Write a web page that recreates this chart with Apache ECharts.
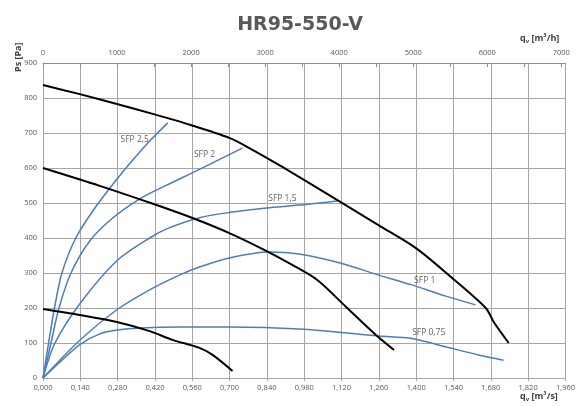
<!DOCTYPE html>
<html>
<head>
<meta charset="utf-8">
<script src="https://cdn.jsdelivr.net/npm/echarts@6/dist/echarts.min.js"></script>
<style>html,body{margin:0;padding:0;background:#fff}#c{width:578px;height:407px}</style>
</head>
<body>
<div id="c"></div>
<script>
// Fan curves (q [m3/s], Ps [Pa])
var fanHigh = [[0,837],[0.138,811],[0.277,783],[0.415,754],[0.554,723],[0.699,686],[0.774,657],[0.898,603],[1.103,509],[1.260,436],[1.399,371],[1.522,294],[1.661,200],[1.691,160],[1.747,100]];
var fanMid = [[0,600],[0.213,549],[0.415,497],[0.561,457],[0.699,414],[0.830,366],[0.935,323],[1.029,280],[1.137,203],[1.249,123],[1.317,80]];
var fanLow = [[0,197],[0.138,180],[0.277,160],[0.400,134],[0.486,109],[0.587,86],[0.636,66],[0.711,20]];
// SFP curves
var sfp25 = [[0,0],[0.021,100],[0.043,200],[0.071,300],[0.123,400],[0.194,485],[0.277,568],[0.340,626],[0.404,680],[0.468,729]];
var sfp2 = [[0,0],[0.030,100],[0.060,200],[0.105,300],[0.176,392],[0.258,455],[0.363,512],[0.464,551],[0.587,596],[0.748,657]];
var sfp15 = [[0,0],[0.045,100],[0.141,215],[0.277,335],[0.400,400],[0.464,426],[0.587,458],[0.711,474],[0.838,486],[0.961,494],[1.103,506]];
var sfp1 = [[0,0],[0.141,110],[0.277,195],[0.400,252],[0.512,294],[0.587,317],[0.699,343],[0.849,360],[0.961,354],[1.111,329],[1.260,294],[1.384,266],[1.511,234],[1.623,209]];
var sfp075 = [[0,0],[0.071,51],[0.141,97],[0.213,126],[0.277,137],[0.363,143],[0.512,146],[0.699,146],[0.961,140],[1.260,120],[1.384,113],[1.511,89],[1.634,66],[1.728,51]];
// Curve labels [q, Ps, text]
var sfpLabels = [[0.344,680,'SFP 2,5'],[0.606,637,'SFP 2'],[0.898,514,'SFP 1,5'],[1.432,277,'SFP 1'],[1.447,129,'SFP 0,75']];
// Axes
var yTicks = [0,100,200,300,400,500,600,700,800,900];
var qMaxS = 1.96, qStepS = 0.14;
var qMaxH = 7056, qStepH = 500;

var blue = '#4a7ebb';
var gridCol = '#a6a6a6';
var txt = '#595959';
var font = 'Open Sans';

function line(data, color, width) {
  return {type:'line', data:data, smooth:0.3, symbol:'none', xAxisIndex:0, yAxisIndex:0,
    lineStyle:{color:color, width:width}, silent:true, z: color === '#000' ? 3 : 2};
}

var chart = echarts.init(document.getElementById('c'), null, {renderer:'canvas'});
chart.setOption({
  animation:false,
  backgroundColor:'#fff',
  title:{text:'HR95-550-V', left:295, top:11, textAlign:'center',
    textStyle:{fontFamily:'DejaVu Sans', fontWeight:'bold', fontSize:19, color:txt}},
  grid:{left:43, right:11, top:63, bottom:29},
  xAxis:[{
    type:'value', min:0, max:qMaxS, interval:qStepS, position:'bottom',
    axisLine:{show:true, lineStyle:{color:gridCol}},
    axisTick:{show:true, length:3, lineStyle:{color:gridCol}},
    splitLine:{show:true, lineStyle:{color:gridCol, width:1}},
    axisLabel:{fontFamily:font, fontSize:7.5, color:txt, margin:6,
      formatter:function(v){return v.toFixed(3).replace('.',',');}}
  },{
    type:'value', min:0, max:qMaxH, interval:qStepH, position:'top',
    axisLine:{show:true, lineStyle:{color:'#8c8c8c'}},
    axisTick:{show:true, inside:true, length:4, lineStyle:{color:'#8c8c8c'}},
    splitLine:{show:false},
    axisLabel:{fontFamily:font, fontSize:7.5, color:txt, margin:6, showMaxLabel:false,
      formatter:function(v){return (Math.round(v) % 1000 === 0) ? String(Math.round(v)) : '';}}
  }],
  yAxis:{type:'value', min:0, max:900, interval:100,
    axisLine:{show:true, lineStyle:{color:gridCol}},
    axisTick:{show:false},
    splitLine:{show:true, lineStyle:{color:gridCol, width:1}},
    axisLabel:{fontFamily:font, fontSize:7.5, color:txt, margin:6,
      formatter:function(v){return yTicks.indexOf(v) >= 0 ? String(v) : '';}}
  },
  series:[
    line(sfp25, blue, 1.5), line(sfp2, blue, 1.5), line(sfp15, blue, 1.5),
    line(sfp1, blue, 1.5), line(sfp075, blue, 1.5),
    line(fanHigh, '#000', 2), line(fanMid, '#000', 2), line(fanLow, '#000', 2),
    {type:'scatter', data:sfpLabels, symbolSize:0, silent:true, xAxisIndex:0, yAxisIndex:0, z:5,
      label:{show:true, position:'inside', fontFamily:font, fontSize:8.5, color:'#3a3a3a',
        formatter:function(p){return p.data[2];}}}
  ],
  graphic:[
    {type:'text', left:520, top:392, style:{
      text:'{b|q}{s|v}{b| [m³/s]}', rich:{
        b:{fontFamily:font, fontWeight:'bold', fontSize:9, fill:'#404040'},
        s:{fontFamily:font, fontWeight:'bold', fontSize:6, fill:'#404040', padding:[5,0,0,0]}}}},
    {type:'text', left:520, top:34, style:{
      text:'{b|q}{s|v}{b| [m³/h]}', rich:{
        b:{fontFamily:font, fontWeight:'bold', fontSize:9, fill:'#404040'},
        s:{fontFamily:font, fontWeight:'bold', fontSize:6, fill:'#404040', padding:[5,0,0,0]}}}},
    {type:'text', x:14, y:72, rotation:Math.PI/2, style:{
      text:'Ps [Pa]', fontFamily:font, fontWeight:'bold', fontSize:9, fill:'#404040'}}
  ]
});
</script>
</body>
</html>
